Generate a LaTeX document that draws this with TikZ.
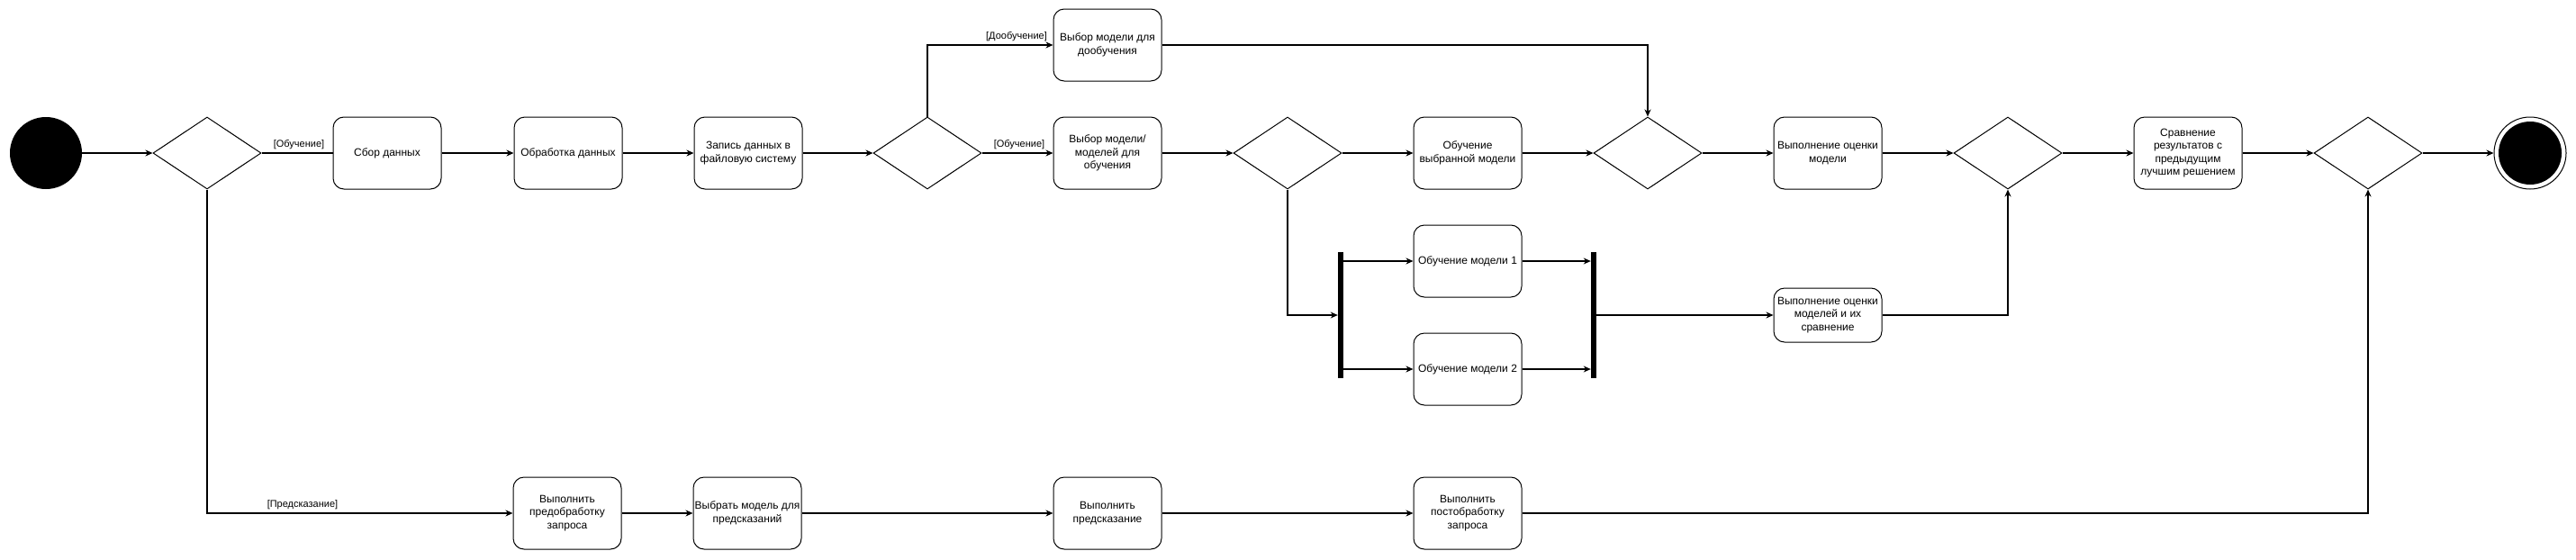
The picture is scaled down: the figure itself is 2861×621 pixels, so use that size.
\documentclass[tikz,border=0pt]{standalone}
\usepackage{fontspec}
\setmainfont{Liberation Sans}
\usetikzlibrary{shapes.geometric,arrows.meta}
\begin{document}
\begin{tikzpicture}[x=1pt,y=-1pt,
 act/.style={draw, rounded corners=12pt, minimum width=120pt, minimum height=80pt, align=center, font=\fontsize{12}{14.5}\selectfont, inner xsep=0pt, inner ysep=1pt, line width=1pt},
 dec/.style={draw, diamond, minimum width=120pt, minimum height=80pt, inner sep=0pt, line width=1pt},
 forkbar/.style={fill=black, minimum width=6pt, minimum height=140pt, inner sep=0pt},
 flow/.style={line width=1.2pt, -{Stealth[length=8pt,width=7pt,inset=2.5pt]}},
 link/.style={line width=1.2pt},
 lbl/.style={font=\fontsize{11}{13}\selectfont, inner sep=0pt}]
\useasboundingbox (0,0) rectangle (2861,621);
\node[circle, fill=black, minimum size=80pt, inner sep=0pt] (start) at (51,170) {};
\node[dec] (d1) at (230,170) {};
\node[act] (a1) at (430,170) {Сбор данных};
\node[act] (a2) at (631,170) {Обработка данных};
\node[act] (a3) at (831,170) {Запись данных в\\файловую систему};
\node[dec] (d2) at (1030,170) {};
\node[act] (a4) at (1230,50) {Выбор модели для\\дообучения};
\node[act] (a5) at (1230,170) {Выбор модели/\\моделей для\\обучения};
\node[dec] (d3) at (1430,170) {};
\node[act] (a6) at (1630,170) {Обучение\\выбранной модели};
\node[dec] (d4) at (1830,170) {};
\node[act] (a7) at (2030,170) {Выполнение оценки\\модели};
\node[dec] (d5) at (2230,170) {};
\node[act] (a8) at (2430,170) {Сравнение\\результатов с\\предыдущим\\лучшим решением};
\node[dec] (d6) at (2630,170) {};
\node[circle, draw, line width=1pt, minimum size=80pt, inner sep=0pt] (end) at (2810,170) {};
\node[circle, fill=black, minimum size=70pt, inner sep=0pt] (endin) at (2810,170) {};
\node[forkbar] (f1) at (1489,350) {};
\node[forkbar] (f2) at (1770,350) {};
\node[act] (b1) at (1630,290) {Обучение модели 1};
\node[act] (b2) at (1630,410) {Обучение модели 2};
\node[act, minimum height=60pt] (b3) at (2030,350) {Выполнение оценки\\моделей и их\\сравнение};
\node[act] (p1) at (630,570) {Выполнить\\предобработку\\запроса};
\node[act] (p2) at (830,570) {Выбрать модель для\\предсказаний};
\node[act] (p3) at (1230,570) {Выполнить\\предсказание};
\node[act] (p4) at (1630,570) {Выполнить\\постобработку\\запроса};
% labels
\node[lbl] (l1) at (332,161) {[Обучение]};
\node[lbl] (l2) at (1129,41) {[Дообучение]};
\node[lbl] (l3) at (1132,161) {[Обучение]};
\node[lbl] (l4) at (336,561) {[Предсказание]};
% connectors
\draw[flow] (start) -- (d1);
\draw[link] (d1.east) -- (a1.west);
\draw[flow] (a1) -- (a2);
\draw[flow] (a2) -- (a3);
\draw[flow] (a3) -- (d2);
\draw[flow] (d2.north) |- (a4.west);
\draw[flow] (d2) -- (a5);
\draw[flow] (a5) -- (d3);
\draw[flow] (d3) -- (a6);
\draw[flow] (a6) -- (d4);
\draw[flow] (a4.east) -| (d4.north);
\draw[flow] (d4) -- (a7);
\draw[flow] (a7) -- (d5);
\draw[flow] (d5) -- (a8);
\draw[flow] (a8) -- (d6);
\draw[flow] (d6) -- (end);
\draw[flow] (d3.south) |- (f1.west);
\draw[flow] (f1.east |- b1.west) -- (b1.west);
\draw[flow] (f1.east |- b2.west) -- (b2.west);
\draw[flow] (b1.east) -- (f2.west |- b1.east);
\draw[flow] (b2.east) -- (f2.west |- b2.east);
\draw[flow] (f2.east) -- (b3.west);
\draw[flow] (b3.east) -| (d5.south);
\draw[flow] (d1.south) |- (p1.west);
\draw[flow] (p1) -- (p2);
\draw[flow] (p2) -- (p3);
\draw[flow] (p3) -- (p4);
\draw[flow] (p4.east) -| (d6.south);
\end{tikzpicture}
\end{document}
